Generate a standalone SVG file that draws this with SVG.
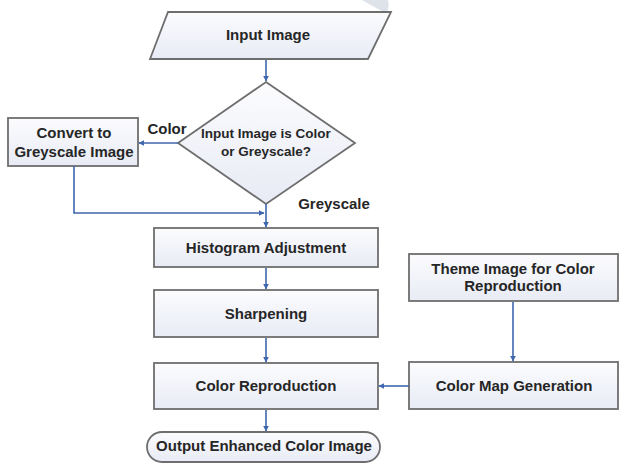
<svg xmlns="http://www.w3.org/2000/svg" width="619" height="463" viewBox="0 0 619 463">
<defs>
<linearGradient id="g" x1="0" y1="0" x2="0" y2="1">
<stop offset="0" stop-color="#fcfcfe"/>
<stop offset="1" stop-color="#e8ebf5"/>
</linearGradient>
<marker id="ah" viewBox="0 0 10 10" refX="9" refY="5" markerWidth="6" markerHeight="6" markerUnits="userSpaceOnUse" orient="auto">
<path d="M0,0 L10,5 L0,10 Z" fill="#3f67ad"/>
</marker>
</defs>
<style>
.box{fill:url(#g);stroke:#6e6e6e;stroke-width:1.8}
.t{font-family:"Liberation Sans",Arial,sans-serif;font-weight:bold;font-size:15px;fill:#262626;text-anchor:middle}
.s{font-size:13.5px}
.c{fill:none;stroke:#3f67ad;stroke-width:1.6;marker-end:url(#ah)}
</style>
<rect width="619" height="463" fill="#ffffff"/>
<path d="M362,0 L388,0 Q390,8 386,13 Q372,6 362,0 Z" fill="#dde3e8"/>
<g id="n-input">
<polygon class="box" points="168,12 391,12 368,59 150,59"/>
<text class="t" x="268" y="40">Input Image</text>
</g>
<g id="n-decision">
<polygon class="box" points="266,82 355,143 266,204 178,143"/>
<text class="t s" x="266" y="138">Input Image is Color</text>
<text class="t s" x="266" y="156">or Greyscale?</text>
</g>
<g id="n-convert">
<rect class="box" x="8" y="118" width="130" height="48"/>
<text class="t" x="74" y="138">Convert to</text>
<text class="t" x="74" y="157">Greyscale Image</text>
</g>
<g id="n-hist">
<rect class="box" x="154" y="228" width="224" height="39"/>
<text class="t" x="266" y="253">Histogram Adjustment</text>
</g>
<g id="n-sharp">
<rect class="box" x="154" y="290" width="224" height="47"/>
<text class="t" x="266" y="319">Sharpening</text>
</g>
<g id="n-colorrep">
<rect class="box" x="154" y="363" width="224" height="46"/>
<text class="t" x="266" y="391">Color Reproduction</text>
</g>
<g id="n-output">
<rect class="box" x="147" y="432" width="233" height="30" rx="15" ry="15"/>
<text class="t" x="264" y="451">Output Enhanced Color Image</text>
</g>
<g id="n-theme">
<rect class="box" x="409" y="254" width="209" height="47"/>
<text class="t" x="513" y="274">Theme Image for Color</text>
<text class="t" x="513" y="291">Reproduction</text>
</g>
<g id="n-colormap">
<rect class="box" x="409" y="362" width="209" height="47"/>
<text class="t" x="514" y="391">Color Map Generation</text>
</g>
<g id="connectors">
<line class="c" x1="266" y1="60" x2="266" y2="81"/>
<line class="c" x1="178" y1="143" x2="139" y2="143"/>
<polyline class="c" points="74,166 74,213 264,213"/>
<line class="c" x1="266" y1="204" x2="266" y2="227"/>
<line class="c" x1="266" y1="268" x2="266" y2="289"/>
<line class="c" x1="266" y1="338" x2="266" y2="362"/>
<line class="c" x1="266" y1="410" x2="266" y2="431"/>
<line class="c" x1="513" y1="302" x2="513" y2="361"/>
<line class="c" x1="409" y1="386" x2="379" y2="386"/>
<text class="t" x="167" y="134">Color</text>
<text class="t" x="334" y="209">Greyscale</text>
</g>
</svg>
